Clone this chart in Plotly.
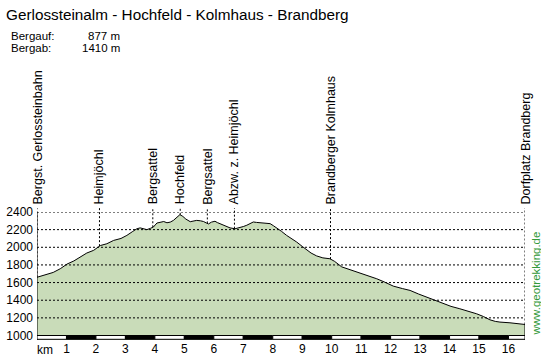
import plotly.graph_objects as go

# ---- data ----
km = [0.00, 0.30, 0.55, 0.79, 1.02, 1.25, 1.47, 1.69, 1.92, 2.15, 2.37, 2.60, 2.85, 3.05,
      3.25, 3.39, 3.50, 3.62, 3.73, 3.85, 3.95, 4.07, 4.20, 4.30, 4.41, 4.52, 4.63, 4.75,
      4.85, 4.95, 5.05, 5.20, 5.30, 5.42, 5.55, 5.65, 5.75, 5.82, 5.92, 6.04, 6.12, 6.21,
      6.35, 6.55, 6.72, 6.89, 7.00, 7.12, 7.25, 7.34, 7.45, 7.57, 7.75, 7.91, 8.02, 8.14,
      8.30, 8.47, 8.65, 8.81, 9.00, 9.15, 9.30, 9.49, 9.70, 9.94, 10.10, 10.34, 10.55,
      10.73, 10.96, 11.30, 11.53, 11.80, 12.09, 12.40, 12.66, 12.95, 13.22, 13.50, 13.79,
      14.05, 14.35, 14.65, 14.92, 15.15, 15.37, 15.55, 15.71, 16.05, 16.30, 16.56]
elev = [1660, 1690, 1715, 1757, 1810, 1845, 1890, 1935, 1965, 2020, 2040, 2078, 2100, 2135,
        2180, 2210, 2220, 2205, 2200, 2215, 2230, 2275, 2285, 2292, 2278, 2285, 2305, 2340,
        2370, 2350, 2320, 2290, 2295, 2305, 2300, 2292, 2275, 2265, 2285, 2295, 2280, 2268,
        2245, 2220, 2210, 2222, 2235, 2250, 2275, 2287, 2282, 2278, 2272, 2268, 2245, 2220,
        2180, 2135, 2100, 2060, 2010, 1968, 1935, 1902, 1880, 1870, 1840, 1778, 1755,
        1738, 1711, 1674, 1643, 1605, 1560, 1532, 1511, 1470, 1436, 1400, 1360,
        1330, 1303, 1275, 1246, 1215, 1178, 1160, 1152, 1144, 1135, 1125]

waypoint_names = ["Bergst. Gerlossteinbahn", "Heimjöchl", "Bergsattel", "Hochfeld",
                  "Bergsattel", "Abzw. z. Heimjöchl", "Brandberger Kolmhaus",
                  "Dorfplatz Brandberg"]
waypoint_km = [0.0, 2.12, 3.93, 4.86, 5.78, 6.70, 9.96, 16.56]

y_ticks = [1000, 1200, 1400, 1600, 1800, 2000, 2200, 2400]
x_ticks = list(range(1, 17))

title = "Gerlossteinalm - Hochfeld - Kolmhaus - Brandberg"
stat_labels = ["Bergauf:", "Bergab:"]
stat_values = ["877 m", "1410 m"]
watermark = "www.geotrekking.de"

# ---- layout constants ----
W, H = 541, 359
ML, MR, MT, MB = 37, 16, 212, 19
PW, PH = W - ML - MR, H - MT - MB
Y_MIN, Y_MAX = 949, 2400
X_MAX = km[-1]
FONT = "Liberation Sans, Arial, sans-serif"
FILL = "#c9dcb9"
m_per_px = (Y_MAX - Y_MIN) / PH


def interp(x):
    for i in range(len(km) - 1):
        if km[i] <= x <= km[i + 1]:
            t = (x - km[i]) / (km[i + 1] - km[i]) if km[i + 1] != km[i] else 0
            return elev[i] + t * (elev[i + 1] - elev[i])
    return elev[-1]


def px_x(p):
    return (p - ML) / PW


def px_y(p):
    return 1 - (p - MT) / PH


fig = go.Figure()
fig.add_trace(go.Scatter(x=km, y=elev, mode="lines", fill="tozeroy",
                         fillcolor=FILL, line=dict(color="black", width=1),
                         hoverinfo="skip", showlegend=False))

shapes = []
dash = "2px,2px"
# grid lines above fill
for v in y_ticks:
    shapes.append(dict(type="line", xref="x", yref="y", x0=0, x1=X_MAX, y0=v, y1=v,
                       line=dict(color="black", width=1, dash=dash), layer="above"))
# waypoint lines (top slightly above the plot area)
for wk in waypoint_km:
    shapes.append(dict(type="line", xref="x", yref="paper", x0=wk, x1=wk,
                       y0=px_y(MT + (Y_MAX - interp(wk)) / m_per_px), y1=px_y(208),
                       line=dict(color="black", width=1, dash=dash), layer="above"))
# right edge solid line of the profile
shapes.append(dict(type="line", xref="x", yref="y", x0=X_MAX, x1=X_MAX,
                   y0=Y_MIN, y1=elev[-1], line=dict(color="black", width=1), layer="above"))
# left axis solid line
shapes.append(dict(type="line", xref="x", yref="y", x0=0, x1=0,
                   y0=Y_MIN, y1=Y_MAX, line=dict(color="black", width=1), layer="above"))
# km scale bar
bar_bottom = Y_MIN + 0.7 * m_per_px
k = 0
while k < X_MAX:
    x1 = min(k + 1, X_MAX)
    shapes.append(dict(type="rect", xref="x", yref="y", x0=k, x1=x1,
                       y0=bar_bottom, y1=1000,
                       fillcolor="black" if k % 2 == 1 else "white",
                       line=dict(color="black", width=1), layer="above"))
    k += 1

annotations = []
for name, wk in zip(waypoint_names, waypoint_km):
    annotations.append(dict(x=wk, y=px_y(205.5), xref="x", yref="paper", text=name,
                            textangle=-90, showarrow=False, xanchor="center",
                            yanchor="bottom", font=dict(family=FONT, size=12.5, color="black"),
                            borderpad=0))

annotations.append(dict(x=px_x(5), y=px_y(14.5), xref="paper", yref="paper", text=title,
                        showarrow=False, xanchor="left", yanchor="middle",
                        font=dict(family=FONT, size=15.3, color="black"), borderpad=0))
for i, (lab, val) in enumerate(zip(stat_labels, stat_values)):
    yy = px_y(35.5 + 12 * i)
    annotations.append(dict(x=px_x(10), y=yy, xref="paper", yref="paper", text=lab,
                            showarrow=False, xanchor="left", yanchor="middle",
                            font=dict(family=FONT, size=11.5, color="black"), borderpad=0))
    annotations.append(dict(x=px_x(121), y=yy, xref="paper", yref="paper", text=val,
                            showarrow=False, xanchor="right", yanchor="middle",
                            font=dict(family=FONT, size=11.5, color="black"), borderpad=0))
annotations.append(dict(x=px_x(45), y=px_y(350), xref="paper", yref="paper", text="km",
                        showarrow=False, xanchor="center", yanchor="middle",
                        font=dict(family=FONT, size=12, color="black"), borderpad=0))
annotations.append(dict(x=px_x(535.5), y=px_y(284), xref="paper", yref="paper", text=watermark,
                        showarrow=False, xanchor="center", yanchor="middle", textangle=-90,
                        font=dict(family=FONT, size=11.5, color="#33993a"), borderpad=0))

fig.update_layout(
    width=W, height=H,
    margin=dict(l=ML, r=MR, t=MT, b=MB, pad=0, autoexpand=False),
    paper_bgcolor="white", plot_bgcolor="white",
    shapes=shapes, annotations=annotations,
    font=dict(family=FONT, size=12, color="black"),
    xaxis=dict(range=[0, X_MAX], tickvals=x_ticks, ticktext=[str(t) for t in x_ticks],
               showgrid=False, zeroline=False, showline=False, ticks="", automargin=False,
               tickfont=dict(family=FONT, size=12, color="black"), fixedrange=True),
    yaxis=dict(range=[Y_MIN, Y_MAX], tickvals=y_ticks, ticktext=[str(t) for t in y_ticks],
               showgrid=False, zeroline=False, showline=False, ticks="", automargin=False,
               ticklabelstandoff=3,
               tickfont=dict(family=FONT, size=12, color="black"), fixedrange=True),
    showlegend=False,
)

fig.write_html("out.html", config={"displayModeBar": False})
